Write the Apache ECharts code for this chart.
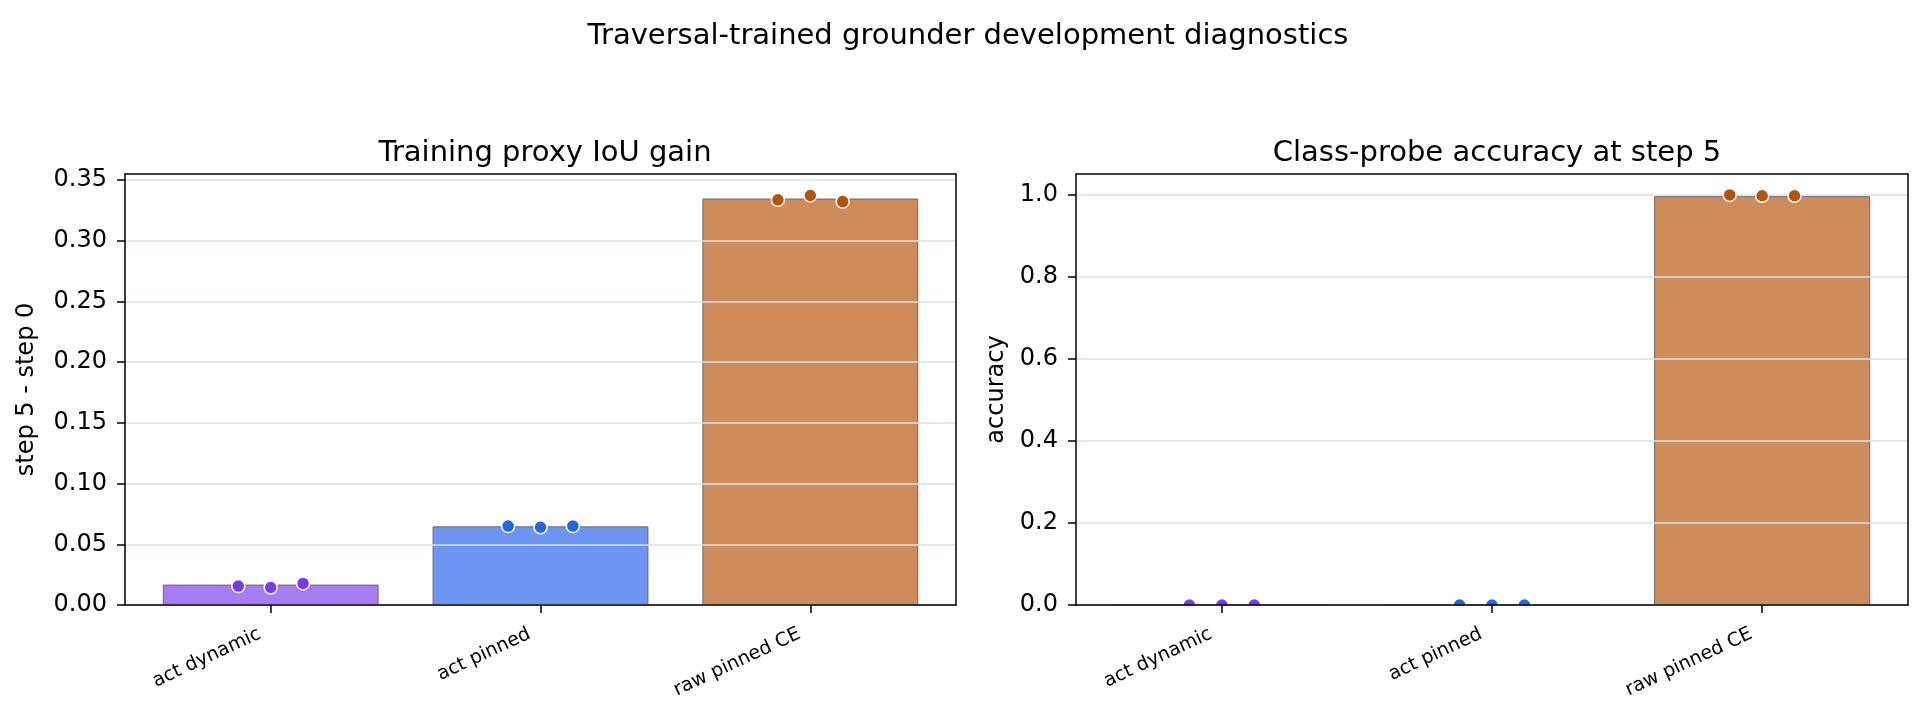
<!DOCTYPE html>
<html>
<head>
<meta charset="utf-8">
<title>Traversal-trained grounder development diagnostics</title>
<script src="https://cdn.jsdelivr.net/npm/echarts@6/dist/echarts.min.js"></script>
<style>
  html, body { margin: 0; padding: 0; background: #fff; }
  #chart { width: 1925px; height: 714px; }
</style>
</head>
<body>
<div id="chart"></div>
<script>
// data
var categories = ['act dynamic', 'act pinned', 'raw pinned CE'];
var iouGainMean = [0.0168, 0.0648, 0.3348];
var iouGainRuns = [
  [0.0156, 0.0144, 0.0178],
  [0.0650, 0.0640, 0.0650],
  [0.3337, 0.3373, 0.3323]
];
var probeAccMean = [0, 0, 0.996];
var probeAccRuns = [
  [0, 0, 0],
  [0, 0, 0],
  [0.999, 0.997, 0.997]
];
var iouTicks = [0, 0.05, 0.10, 0.15, 0.20, 0.25, 0.30, 0.35];
var accTicks = [0, 0.2, 0.4, 0.6, 0.8, 1.0];

// styling
var palette = ['#7c3aed', '#2563eb', '#b45309'];
var barAlpha = 0.67;
var jitter = [-0.12, 0, 0.12]; // strip plot spread inside a category
var font = 'DejaVu Sans';
var xMin = -0.54, xMax = 2.54;

function rgba(hex, a) {
  var n = parseInt(hex.slice(1), 16);
  return 'rgba(' + (n >> 16) + ',' + ((n >> 8) & 255) + ',' + (n & 255) + ',' + a + ')';
}

// outer plot boxes (spines) ...
var boxes = [
  { left: 125, top: 174, width: 831, height: 431 },
  { left: 1076, top: 174, width: 832, height: 431 }
];
// ... and the category bands inside them (matplotlib keeps a small margin each side)
var bands = boxes.map(function (b) {
  var u = b.width / (xMax - xMin);
  return { left: b.left + (-0.5 - xMin) * u, top: b.top, width: 3 * u, height: b.height };
});

// layering: bars < grid lines < points < spines
function frameX(gridIndex) {
  return [{
    type: 'value', gridIndex: gridIndex, min: xMin, max: xMax, z: 10,
    axisLine: { onZero: false, lineStyle: { color: '#000', width: 1.5 } },
    axisTick: { show: false }, axisLabel: { show: false }, splitLine: { show: false }
  }, {
    type: 'value', gridIndex: gridIndex, min: xMin, max: xMax, position: 'top', z: 10,
    axisLine: { onZero: false, lineStyle: { color: '#000', width: 1.5 } },
    axisTick: { show: false }, axisLabel: { show: false }, splitLine: { show: false }
  }];
}

function categoryX(gridIndex) {
  return {
    type: 'category', gridIndex: gridIndex, data: categories, z: 10,
    axisLine: { show: false },
    axisTick: { show: true, alignWithLabel: true, length: 8, lineStyle: { color: '#000', width: 1.5 } },
    axisLabel: {
      interval: 0, rotate: 25, margin: 23, padding: [0, 12, 0, 0],
      color: '#000', fontSize: 19, fontFamily: font
    },
    splitLine: { show: false }
  };
}

function yAxes(gridIndex, max, ticks, digits, name, gap) {
  return [{
    type: 'value', gridIndex: gridIndex, min: 0, max: max, interval: ticks[1] - ticks[0], z: 2,
    name: name, nameLocation: 'middle', nameGap: gap,
    nameTextStyle: { color: '#000', fontSize: 24, fontFamily: font },
    axisLine: { show: true, onZero: false, lineStyle: { color: '#000', width: 1.5 } },
    axisTick: { show: true, customValues: ticks, length: 8, lineStyle: { color: '#000', width: 1.5 } },
    axisLabel: {
      customValues: ticks, margin: 18, color: '#000', fontSize: 24, fontFamily: font,
      formatter: function (v) { return v.toFixed(digits); }
    },
    splitLine: { show: true, lineStyle: { color: '#d9e0ec', width: 1.5 } }
  }, {
    type: 'value', gridIndex: gridIndex, min: 0, max: max, position: 'right', z: 10,
    axisLine: { show: true, onZero: false, lineStyle: { color: '#000', width: 1.5 } },
    axisTick: { show: false }, axisLabel: { show: false }, splitLine: { show: false }
  }];
}

function hiddenY(gridIndex, max) {
  return { type: 'value', gridIndex: gridIndex, min: 0, max: max, show: false };
}

function barSeries(axisIndex, boxIndex, means) {
  var bw = 0.8 / (xMax - xMin) * boxes[boxIndex].width;
  return {
    type: 'bar', xAxisIndex: axisIndex, yAxisIndex: axisIndex, barWidth: bw, z: 1,
    itemStyle: { borderColor: '#6b6b6b', borderWidth: 1 },
    data: means.map(function (v, i) {
      return { value: [i, v], itemStyle: { color: rgba(palette[i], barAlpha) } };
    })
  };
}

// per-run points; a custom series so the plot rect clips them like matplotlib does
function pointSeries(axisIndex, runs) {
  var pts = [];
  runs.forEach(function (row, i) {
    row.forEach(function (v, j) {
      pts.push([i + jitter[j], v, i]);
    });
  });
  return {
    type: 'custom', xAxisIndex: axisIndex, yAxisIndex: axisIndex, z: 3, clip: true,
    encode: { x: 0, y: 1 },
    renderItem: function (params, api) {
      var p = api.coord([api.value(0), api.value(1)]);
      return {
        type: 'circle',
        shape: { cx: p[0], cy: p[1], r: 6.5 },
        style: { fill: palette[api.value(2)], stroke: '#fff', lineWidth: 1.5 }
      };
    },
    data: pts
  };
}

var chart = echarts.init(document.getElementById('chart'));

var titleStyle = { color: '#000', fontSize: 29, fontWeight: 'normal', fontFamily: font };

var option = {
  animation: false,
  title: [
    { text: 'Traversal-trained grounder development diagnostics', left: 963, top: 17, textAlign: 'center', textStyle: titleStyle },
    { text: 'Training proxy IoU gain', left: 540, top: 134, textAlign: 'center', textStyle: titleStyle },
    { text: 'Class-probe accuracy at step 5', left: 1492, top: 134, textAlign: 'center', textStyle: titleStyle }
  ],
  grid: boxes.concat(bands),
  // x: 0,1 left box | 2,3 right box | 4 left bands | 5 right bands
  xAxis: frameX(0).concat(frameX(1), [categoryX(2), categoryX(3)]),
  yAxis: yAxes(0, 0.355, iouTicks, 2, 'step 5 - step 0', 86)
    .concat(yAxes(1, 1.05, accTicks, 1, 'accuracy', 67), [hiddenY(2, 0.355), hiddenY(3, 1.05)]),
  series: [
    barSeries(0, 0, iouGainMean),
    pointSeries(0, iouGainRuns),
    barSeries(2, 1, probeAccMean),
    pointSeries(2, probeAccRuns)
  ]
};

chart.setOption(option);

window.addEventListener('resize', function () {
  chart.resize();
});
</script>
</body>
</html>
